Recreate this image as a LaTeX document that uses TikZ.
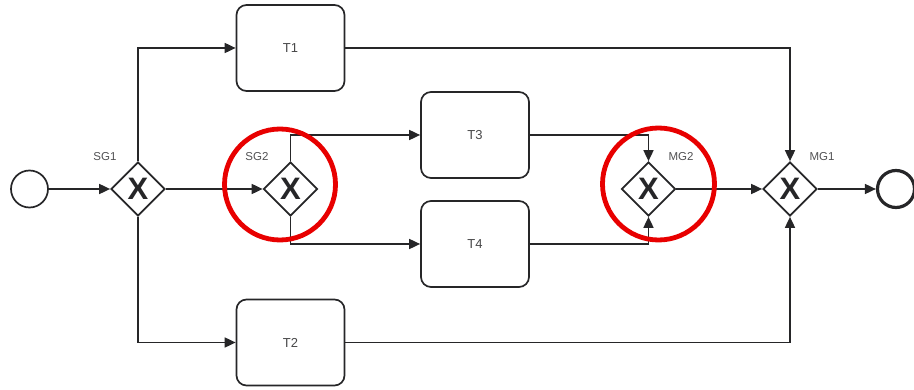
\documentclass[tikz,border=0pt]{standalone}
\usepackage{fontspec}
\setmainfont{Liberation Sans}
\usetikzlibrary{shapes.geometric,arrows.meta}
\definecolor{ink}{RGB}{38,38,40}
\definecolor{mark}{RGB}{232,0,0}

\begin{document}
\begin{tikzpicture}[x=1pt, y=-1pt,
	flow/.style={draw=ink, line width=1.7pt, -{Triangle[length=11pt,width=10pt]}},
	task/.style={draw=ink, line width=1.7pt, rounded corners=10pt, minimum width=108pt, minimum height=86pt,
		font=\fontsize{13}{15}\selectfont, text=ink!85},
	gate/.style={draw=ink, line width=1.7pt, diamond, inner sep=0pt, minimum width=54pt, minimum height=54pt,
		font=\fontsize{31}{31}\selectfont\bfseries, text=ink},
	event/.style={draw=ink, line width=1.7pt, circle, inner sep=0pt},
	lbl/.style={font=\fontsize{11.5}{13}\selectfont, text=ink!80},
	ring/.style={draw=mark, line width=4.8pt}]
\useasboundingbox (0,0) rectangle (914,390);

\node[event, minimum size=37pt] (start) at (29.5,189) {};
\node[event, minimum size=37pt, line width=3.2pt] (end) at (896,189) {};

\node[gate] (sg1) at (138,189) {X};
\node[gate] (sg2) at (290.5,189) {X};
\node[gate] (mg2) at (648.5,189) {X};
\node[gate] (mg1) at (790,189) {X};

\node[lbl] (sg1l) at (105,157) {SG1};
\node[lbl] (sg2l) at (257,157) {SG2};
\node[lbl] (mg2l) at (681,157) {MG2};
\node[lbl] (mg1l) at (822,157) {MG1};

\node[task] (t1) at (290.5,48) {T1};
\node[task] (t2) at (290.5,342.5) {T2};
\node[task] (t3) at (475,135) {T3};
\node[task] (t4) at (475,244) {T4};

\draw[flow] (start) -- (sg1);
\draw[flow] (sg1.north) |- (t1);
\draw[flow] (sg1.south) |- (t2);
\draw[flow] (sg1) -- (sg2);
\draw[flow] (sg2.north) |- (t3);
\draw[flow] (sg2.south) |- (t4);
\draw[flow] (t3) -| (mg2.north);
\draw[flow] (t4) -| (mg2.south);
\draw[flow] (mg2) -- (mg1);
\draw[flow] (t1) -| (mg1.north);
\draw[flow] (t2) -| (mg1.south);
\draw[flow] (mg1) -- (end);

% red marks round the inner gateways
\draw[ring] (280,184.5) circle (55.5);
\draw[ring] (658.5,184) circle (56);
\end{tikzpicture}
\end{document}
